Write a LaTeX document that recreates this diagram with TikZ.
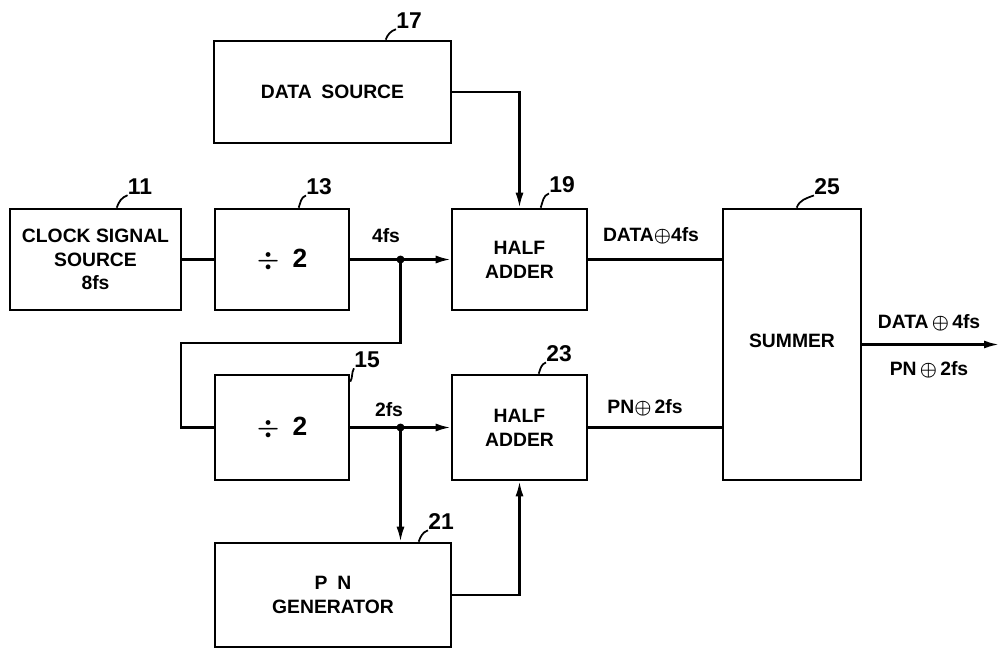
\documentclass[tikz,border=0pt]{standalone}
\usepackage{fontspec}
\setmainfont{Liberation Sans}
\usepackage{tikz}
\usetikzlibrary{arrows.meta,positioning,calc}

\begin{document}
\begin{tikzpicture}[
  x=0.02cm, y=-0.02cm,
  blk/.style={draw, line width=1.5pt, align=center, inner sep=0pt, font=\bfseries\boldmath\fontsize{11}{13.5}\selectfont},
  divtxt/.style={font=\bfseries\boldmath\fontsize{15}{17}\selectfont},
  wire/.style={line width=1.3pt},
  arr/.style={-{Latex[length=3mm,width=1.6mm]}, line width=1.3pt},
  lead/.style={line width=1pt},
  num/.style={inner sep=0pt, font=\bfseries\fontsize{13}{15}\selectfont},
  lbl/.style={inner sep=0pt, font=\bfseries\boldmath\fontsize{11}{13}\selectfont}
]
  \useasboundingbox (0,0) rectangle (1001,649);

  % blocks
  \node[blk, minimum width=4.74cm, minimum height=2.04cm] (src) at (332.5,92) {DATA\enspace SOURCE};
  \node[blk, minimum width=3.42cm, minimum height=2.02cm] (clk) at (95.5,259.5) {CLOCK SIGNAL\\SOURCE\\8fs};
  \node[blk, divtxt, minimum width=2.68cm, minimum height=2.02cm] (divA) at (282,259.5) {$\div$\enspace 2};
  \node[blk, minimum width=2.70cm, minimum height=2.02cm] (hadA) at (519.5,259.5) {HALF\\ADDER};
  \node[blk, minimum width=2.76cm, minimum height=5.42cm] (sum) at (792,344.5) {\raisebox{0.15cm}{SUMMER}};
  \node[blk, divtxt, minimum width=2.68cm, minimum height=2.10cm] (divB) at (282,427.5) {$\div$\enspace 2};
  \node[blk, minimum width=2.70cm, minimum height=2.10cm] (hadB) at (519.5,427.5) {HALF\\ADDER};
  \node[blk, minimum width=4.72cm, minimum height=2.08cm] (png) at (333,595) {P\enspace N\\GENERATOR};

  % reference numbers
  \node[num] (n17) at (409,21) {17};
  \node[num] (n11) at (140,187) {11};
  \node[num] (n13) at (319,187) {13};
  \node[num] (n19) at (562,185) {19};
  \node[num] (n25) at (827,187) {25};
  \node[num] (n15) at (367,360) {15};
  \node[num] (n23) at (559,354) {23};
  \node[num] (n21) at (441,522) {21};

  \draw[lead] ($(src.north west)+(173,0)$) to[out=70,in=200] (n17.south west);
  \draw[lead] ($(clk.north west)+(108,0)$) to[out=70,in=200] (n11.south west);
  \draw[lead] ($(divA.north west)+(85,0)$) to[out=70,in=200] (n13.south west);
  \draw[lead] ($(hadA.north west)+(90,0)$) to[out=70,in=200] (n19.south west);
  \draw[lead] ($(sum.north west)+(75,0)$) to[out=70,in=200] (n25.south west);
  \draw[lead] ($(divB.north east)+(0,8)$) to[out=60,in=240] (n15.south west);
  \draw[lead] ($(hadB.north west)+(88,0)$) to[out=70,in=200] (n23.south west);
  \draw[lead] ($(png.north west)+(205,0)$) to[out=70,in=200] (n21.south west);

  % signal labels
  \node[lbl] (l4fs) at (386,236) {4fs};
  \node[lbl] (l2fs) at (389,410) {2fs};
  \node[lbl] (ldA) at (651,236) {DATA$\oplus$4fs};
  \node[lbl] (lpB) at (645,408) {PN$\oplus$\,2fs};
  \node[lbl] (loA) at (929,323) {DATA\,$\oplus$\,4fs};
  \node[lbl] (loB) at (929,370) {PN\,$\oplus$\,2fs};

  % connections
  \coordinate (jA) at ($(divA.east)!.5!(hadA.west)$);
  \coordinate (jB) at ($(divB.east)!.5!(hadB.west)$);
  \coordinate (loopL) at (181,343);
  \coordinate (out) at (999,344.5);

  \draw[wire] (clk) -- (divA);
  \draw[arr] (divA) -- (hadA);
  \draw[wire] (jA) |- (loopL) |- (divB.west);
  \draw[arr] (divB) -- (hadB);
  \draw[arr] (jB) -- (jB |- png.north);
  \draw[arr] (src.east) -| (hadA.north);
  \draw[arr] (png.east) -| (hadB.south);
  \draw[wire] (hadA) -- (hadA -| sum.west);
  \draw[wire] (hadB) -- (hadB -| sum.west);
  \draw[arr] (sum) -- (out);

  \fill (jA) circle[radius=0.08cm];
  \fill (jB) circle[radius=0.08cm];
\end{tikzpicture}
\end{document}
